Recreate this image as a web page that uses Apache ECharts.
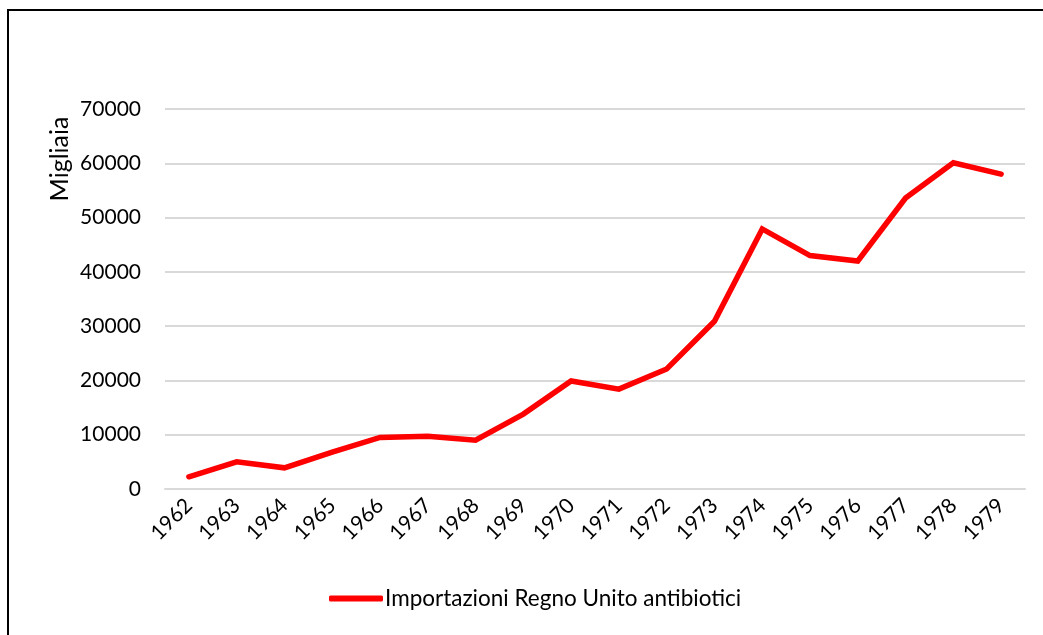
<!DOCTYPE html>
<html>
<head>
<meta charset="utf-8">
<script src="https://cdn.jsdelivr.net/npm/echarts@6/dist/echarts.min.js"></script>
<style>
  html, body { margin: 0; padding: 0; background: #fff; }
  #chart { width: 1043px; height: 635px; }
</style>
</head>
<body>
<div id="chart"></div>
<script>
// Anni e importazioni (migliaia)
const years = ['1962', '1963', '1964', '1965', '1966', '1967', '1968', '1969', '1970',
  '1971', '1972', '1973', '1974', '1975', '1976', '1977', '1978', '1979'];
const imports = [2250, 5000, 3900, 6800, 9500, 9700, 9000, 13800, 19900,
  18400, 22100, 30900, 47900, 43000, 42000, 53600, 60100, 58000];
const seriesName = 'Importazioni Regno Unito antibiotici';
const yAxisTitle = 'Migliaia';

const FONT = 'Lato, "Open Sans", sans-serif';
const chart = echarts.init(document.getElementById('chart'), null, { renderer: 'canvas' });

chart.setOption({
  backgroundColor: '#fff',
  animation: false,
  graphic: [
    {
      type: 'rect',
      shape: { x: 8, y: 10, width: 1200, height: 800 },
      style: { fill: 'none', stroke: '#000', lineWidth: 2 },
      silent: true
    },
    {
      type: 'text',
      x: 60, y: 159,
      rotation: Math.PI / 2,
      style: {
        text: yAxisTitle,
        font: '25px ' + FONT,
        fill: '#000',
        align: 'center',
        verticalAlign: 'middle'
      }
    }
  ],
  grid: { left: 165, right: 18, top: 109, bottom: 146 },
  legend: {
    left: 329, top: 587,
    padding: 0,
    icon: 'roundRect',
    itemWidth: 54, itemHeight: 6,
    itemGap: 10,
    textStyle: { fontFamily: FONT, fontSize: 22.5, color: '#000', padding: [0, 0, 0, -3] },
    data: [seriesName]
  },
  xAxis: {
    type: 'category',
    data: years,
    boundaryGap: true,
    axisLine: { show: true, lineStyle: { color: '#d9d9d9', width: 2 } },
    axisTick: { show: false },
    axisLabel: { rotate: 45, fontFamily: FONT, fontSize: 21, color: '#000', margin: 13, interval: 0 }
  },
  yAxis: {
    type: 'value',
    min: 0, max: 70000, interval: 10000,
    axisLine: { show: false },
    axisTick: { show: false },
    splitLine: { lineStyle: { color: '#d9d9d9', width: 2 } },
    axisLabel: {
      fontFamily: FONT, fontSize: 21, color: '#000', margin: 24,
      formatter: v => String(v)
    }
  },
  series: [{
    name: seriesName,
    type: 'line',
    data: imports,
    symbol: 'none',
    lineStyle: { color: '#ff0000', width: 5.5, cap: 'round', join: 'miter' },
    itemStyle: { color: '#ff0000' }
  }]
});
</script>
</body>
</html>
